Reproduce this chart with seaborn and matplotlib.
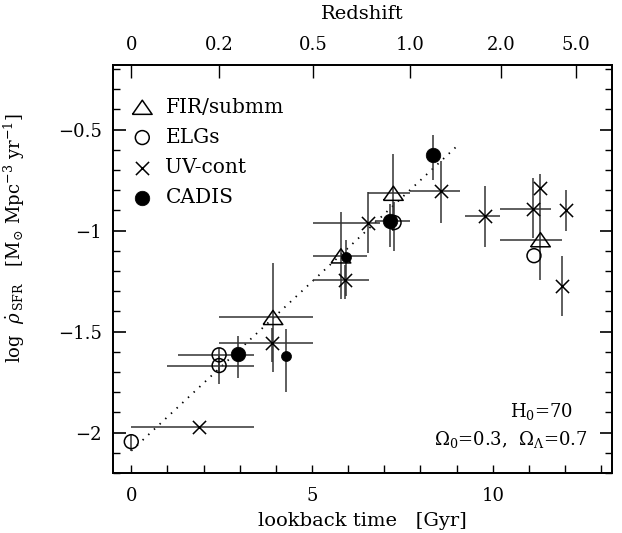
import numpy as np
import matplotlib.pyplot as plt
from matplotlib.ticker import MultipleLocator
import seaborn as sns

nan = np.nan

# lookback time [Gyr] and log SFR density
# error bars are stored as their end points
fir_t = [3.92, 5.80, 7.25, 11.32]
fir_y = [-1.43, -1.125, -0.815, -1.045]
fir_t_lo = [2.43, 5.02, 6.56, 10.21]
fir_t_hi = [5.02, 6.51, 7.71, 11.91]
fir_y_lo = [-1.70, -1.34, -1.00, nan]
fir_y_hi = [-1.16, -0.91, -0.62, nan]

elg_t = [0.0, 2.43, 2.43, 7.27, 11.14]
elg_y = [-2.045, -1.615, -1.668, -0.96, -1.124]
elg_t_lo = [nan, 1.30, 1.00, nan, nan]
elg_t_hi = [nan, 3.40, 3.40, nan, nan]
elg_y_lo = [-2.09, -1.70, -1.76, -1.10, nan]
elg_y_hi = [-2.01, -1.58, -1.62, -0.86, nan]

uv_t = [1.87, 3.89, 5.91, 6.56, 8.56, 9.78, 11.11, 11.30, 11.92, 12.02]
uv_y = [-1.97, -1.555, -1.243, -0.96, -0.805, -0.929, -0.891, -0.789, -1.276, -0.90]
uv_t_lo = [0.0, 2.43, 5.04, 5.02, 7.70, 9.23, 10.21, nan, nan, nan]
uv_t_hi = [3.40, 5.02, 6.57, 6.88, 9.10, 10.21, 11.60, nan, nan, nan]
uv_y_lo = [nan, -1.65, -1.34, -1.11, -0.962, -1.08, -1.036, -1.243, -1.424, -1.00]
uv_y_hi = [nan, -1.48, -1.17, -0.81, -0.657, -0.78, -0.74, -0.718, -1.124, -0.797]

cadis_t = [2.94, 7.15, 8.35]
cadis_y = [-1.61, -0.954, -0.624]
cadis_t_lo = [nan, 6.74, nan]
cadis_t_hi = [nan, 7.71, nan]
cadis_y_lo = [-1.73, -1.08, -0.75]
cadis_y_hi = [-1.52, -0.87, -0.525]

# smaller CADIS points
cadis2_t = [4.27, 5.94]
cadis2_y = [-1.62, -1.13]
cadis2_y_lo = [-1.80, -1.325]
cadis2_y_hi = [-1.485, -1.045]

# dotted fit line end points
fit_t = [0.0, 9.0]
fit_y = [-2.09, -0.583]

z_ticks = [0, 0.2, 0.5, 1.0, 2.0, 5.0]
z_labels = ['0', '0.2', '0.5', '1.0', '2.0', '5.0']

H0, OM, OL = 70.0, 0.3, 0.7


def lookback_time(z):
    zz = np.linspace(0, z, 2001)
    f = 1.0 / ((1 + zz) * np.sqrt(OM * (1 + zz) ** 3 + OL))
    return 977.8 / H0 * np.trapezoid(f, zz)


def draw_bars(ax, t, y, t_lo, t_hi, y_lo, y_hi):
    ax.hlines(y, t_lo, t_hi, color='0.2', lw=1.1, zorder=2)
    ax.vlines(t, y_lo, y_hi, color='0.2', lw=1.1, zorder=2)


sns.set_theme(style='ticks')
plt.rcParams['font.family'] = ['DejaVu Serif']
plt.rcParams['mathtext.fontset'] = 'dejavuserif'
for k in ['text.color', 'axes.labelcolor', 'xtick.color', 'ytick.color', 'axes.edgecolor']:
    plt.rcParams[k] = 'black'

fig = plt.figure(figsize=(6.22, 5.33), dpi=100)
ax = fig.add_axes([0.182, 0.1126, 0.802, 0.7654])

tri = [(-1, -0.72), (1, -0.72), (0, 0.72), (-1, -0.72)]

draw_bars(ax, fir_t, fir_y, fir_t_lo, fir_t_hi, fir_y_lo, fir_y_hi)
draw_bars(ax, elg_t, elg_y, elg_t_lo, elg_t_hi, elg_y_lo, elg_y_hi)
draw_bars(ax, uv_t, uv_y, uv_t_lo, uv_t_hi, uv_y_lo, uv_y_hi)
draw_bars(ax, cadis_t, cadis_y, cadis_t_lo, cadis_t_hi, cadis_y_lo, cadis_y_hi)
ax.vlines(cadis2_t, cadis2_y_lo, cadis2_y_hi, color='0.2', lw=1.1, zorder=2)

sns.lineplot(x=fit_t, y=fit_y, ax=ax, color='black', lw=1.3,
             dashes=False, linestyle=(0, (0.8, 3.5)), zorder=1)

sns.scatterplot(x=fir_t, y=fir_y, ax=ax, marker=tri, s=200, facecolor='none',
                edgecolor='black', linewidth=1.1, zorder=3, label='FIR/submm')
sns.scatterplot(x=elg_t, y=elg_y, ax=ax, marker='o', s=100, facecolor='none',
                edgecolor='black', linewidth=1.1, zorder=3, label='ELGs')
sns.scatterplot(x=uv_t, y=uv_y, ax=ax, marker='x', s=90, color='black',
                linewidth=1.1, zorder=3, label='UV-cont')
sns.scatterplot(x=cadis_t, y=cadis_y, ax=ax, marker='o', s=110, color='black',
                edgecolor='black', linewidth=0.5, zorder=4, label='CADIS')
sns.scatterplot(x=cadis2_t, y=cadis2_y, ax=ax, marker='o', s=52, color='black',
                edgecolor='black', linewidth=0.5, zorder=4)

ax.set_xlim(-0.5, 13.3)
ax.set_ylim(-2.2, -0.18)
ax.set_yticks([-2, -1.5, -1, -0.5])
ax.set_yticklabels(['\u22122', '\u22121.5', '\u22121', '\u22120.5'])
ax.xaxis.set_major_locator(MultipleLocator(5))
ax.xaxis.set_minor_locator(MultipleLocator(1))
ax.yaxis.set_minor_locator(MultipleLocator(0.1))
ax.tick_params(axis='x', which='both', direction='in', length=6, width=1,
               top=False, bottom=True, labelsize=13, pad=10)
ax.tick_params(axis='y', which='major', direction='in', length=9, width=1.2,
               left=True, right=True, labelsize=13, pad=8)
ax.tick_params(axis='y', which='minor', direction='in', length=5, width=1,
               left=True, right=True)
for sp in ax.spines.values():
    sp.set_linewidth(1.3)

ax.set_xlabel('lookback time   [Gyr]', fontsize=14, labelpad=5)
ax.set_ylabel(r'log  $\dot{\rho}_{\,\mathrm{SFR}}$   '
              r'[M$_{\odot}$ Mpc$^{-3}$ yr$^{-1}$]', fontsize=13)
ax.yaxis.set_label_coords(-0.172, 0.576)

ax.text(0.922, 0.150, r'H$_0$=70', transform=ax.transAxes,
        ha='right', va='center', fontsize=13)
ax.text(0.95, 0.081, r'$\Omega_0$=0.3,  $\Omega_\Lambda$=0.7',
        transform=ax.transAxes, ha='right', va='center', fontsize=13)

ax.legend(loc='upper left', bbox_to_anchor=(0.024, 0.94), borderaxespad=0,
          frameon=False, fontsize=14.5, handlelength=0.9, handletextpad=0.7,
          labelspacing=0.56, scatterpoints=1)

ax_top = ax.twiny()
ax_top.set_xlim(ax.get_xlim())
ax_top.set_xticks([lookback_time(z) for z in z_ticks])
ax_top.set_xticklabels(z_labels)
ax_top.tick_params(axis='x', direction='in', length=9, width=1,
                   top=True, bottom=False, labelsize=13, pad=8)
ax_top.set_xlabel('Redshift', fontsize=14, labelpad=12)
for sp in ax_top.spines.values():
    sp.set_linewidth(1.3)

fig.savefig('out.png', dpi=100)
